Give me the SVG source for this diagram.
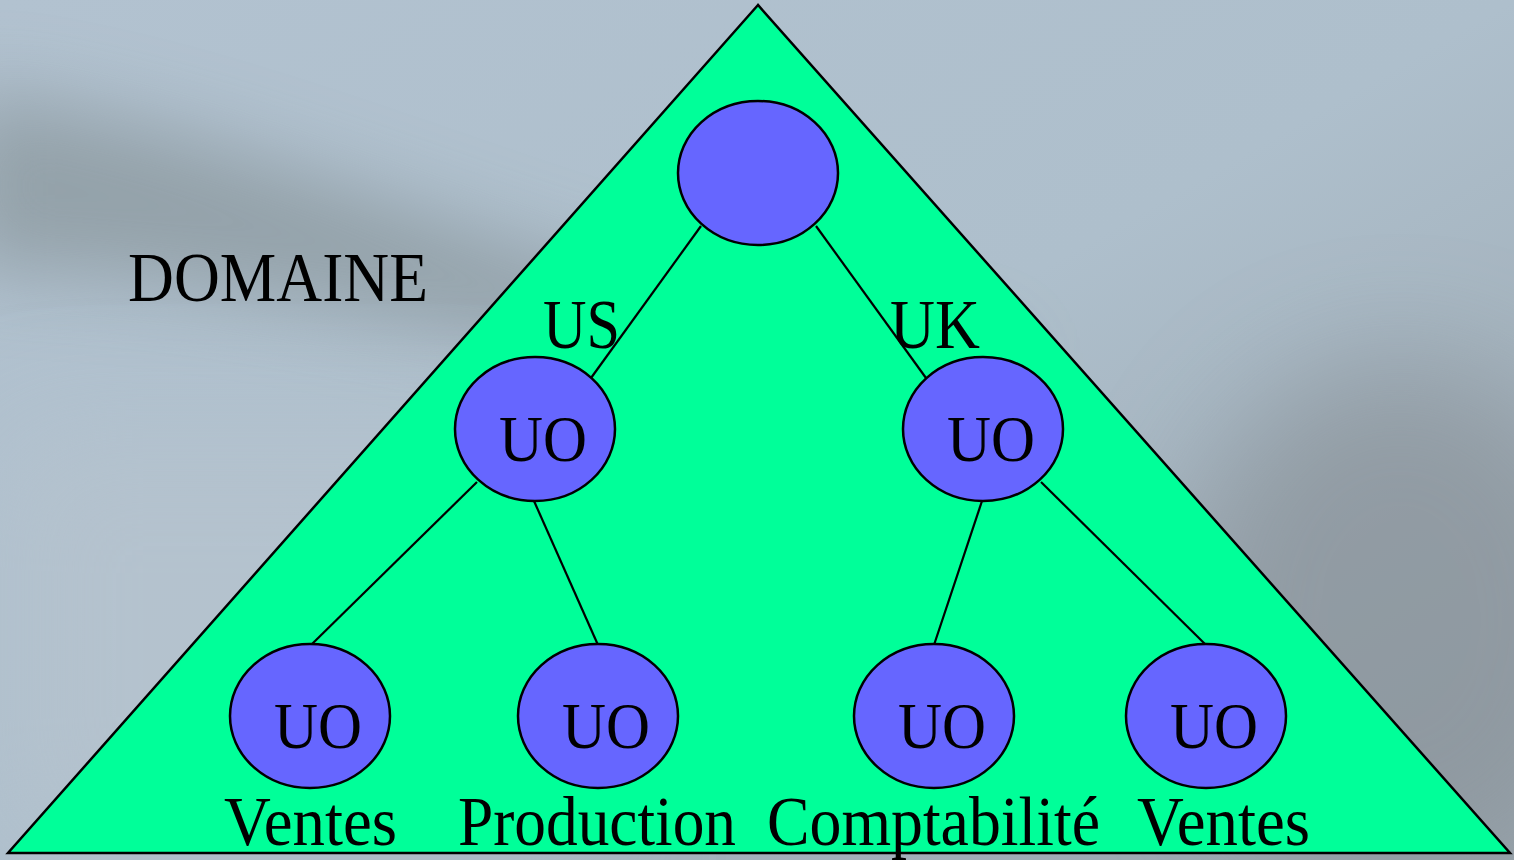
<svg xmlns="http://www.w3.org/2000/svg" width="1514" height="860" viewBox="0 0 1514 860">
<defs>
<style>
.node{fill:#6666ff;stroke:#000;stroke-width:2.5}
.t{font-family:"Liberation Serif","Times New Roman",serif;fill:#000}
.uo{font-size:66px;text-anchor:middle}
.lbl{font-size:70px}
.edge{stroke:#000;stroke-width:2.2;fill:none}
</style>
<linearGradient id="bg" x1="0" y1="0" x2="1" y2="1">
<stop offset="0" stop-color="#b2c2d0"/>
<stop offset="0.5" stop-color="#aebfcc"/>
<stop offset="1" stop-color="#98a4ac"/>
</linearGradient>
<filter id="blur" x="-50%" y="-50%" width="200%" height="200%"><feGaussianBlur stdDeviation="40"/></filter>
<filter id="blur2" x="-50%" y="-50%" width="200%" height="200%"><feGaussianBlur stdDeviation="60"/></filter>
</defs>
<rect width="1514" height="860" fill="url(#bg)"/>
<g id="background-shading">
<path d="M-40,90 C150,110 350,190 560,260 C700,300 850,330 1000,350 L1000,420 C850,410 700,380 560,350 C350,310 150,270 -40,270 Z" fill="#8a979d" opacity="0.75" filter="url(#blur)"/>
<ellipse cx="1400" cy="620" rx="220" ry="260" fill="#8a939a" opacity="0.7" filter="url(#blur2)"/>
<rect x="0" y="430" width="600" height="430" fill="#b8c4cf" opacity="0.6" filter="url(#blur2)"/>
</g>
<g id="domain">
<polygon points="758,5 8,853 1510,853" fill="#00ff99" stroke="#000" stroke-width="2.5"/>
</g>
<g id="connectors">
<line class="edge" x1="701" y1="226" x2="591" y2="378"/>
<line class="edge" x1="816" y1="226" x2="926" y2="378"/>
<line class="edge" x1="477" y1="482" x2="311" y2="645"/>
<line class="edge" x1="534" y1="501" x2="598" y2="645"/>
<line class="edge" x1="982" y1="501" x2="934" y2="645"/>
<line class="edge" x1="1041" y1="482" x2="1206" y2="645"/>
</g>
<g id="root"><ellipse class="node" cx="758" cy="173" rx="80" ry="72"/></g>
<g id="uo-us"><ellipse class="node" cx="535" cy="429" rx="80" ry="72"/><text class="t uo" x="543" y="461" textLength="88" lengthAdjust="spacingAndGlyphs">UO</text></g>
<g id="uo-uk"><ellipse class="node" cx="983" cy="429" rx="80" ry="72"/><text class="t uo" x="991" y="461" textLength="88" lengthAdjust="spacingAndGlyphs">UO</text></g>
<g id="uo-us-ventes"><ellipse class="node" cx="310" cy="716" rx="80" ry="72"/><text class="t uo" x="318" y="748" textLength="88" lengthAdjust="spacingAndGlyphs">UO</text></g>
<g id="uo-us-production"><ellipse class="node" cx="598" cy="716" rx="80" ry="72"/><text class="t uo" x="606" y="748" textLength="88" lengthAdjust="spacingAndGlyphs">UO</text></g>
<g id="uo-uk-comptabilite"><ellipse class="node" cx="934" cy="716" rx="80" ry="72"/><text class="t uo" x="942" y="748" textLength="88" lengthAdjust="spacingAndGlyphs">UO</text></g>
<g id="uo-uk-ventes"><ellipse class="node" cx="1206" cy="716" rx="80" ry="72"/><text class="t uo" x="1214" y="748" textLength="88" lengthAdjust="spacingAndGlyphs">UO</text></g>
<g id="labels">
<text class="t lbl" x="128" y="301" textLength="300" lengthAdjust="spacingAndGlyphs">DOMAINE</text>
<text class="t lbl" x="543" y="348" textLength="77" lengthAdjust="spacingAndGlyphs">US</text>
<text class="t lbl" x="890" y="348" textLength="90" lengthAdjust="spacingAndGlyphs">UK</text>
<text class="t lbl" x="224" y="845" textLength="173" lengthAdjust="spacingAndGlyphs">Ventes</text>
<text class="t lbl" x="458" y="845" textLength="278" lengthAdjust="spacingAndGlyphs">Production</text>
<text class="t lbl" x="767" y="845" textLength="333" lengthAdjust="spacingAndGlyphs">Comptabilité</text>
<text class="t lbl" x="1137" y="845" textLength="173" lengthAdjust="spacingAndGlyphs">Ventes</text>
</g>
</svg>
